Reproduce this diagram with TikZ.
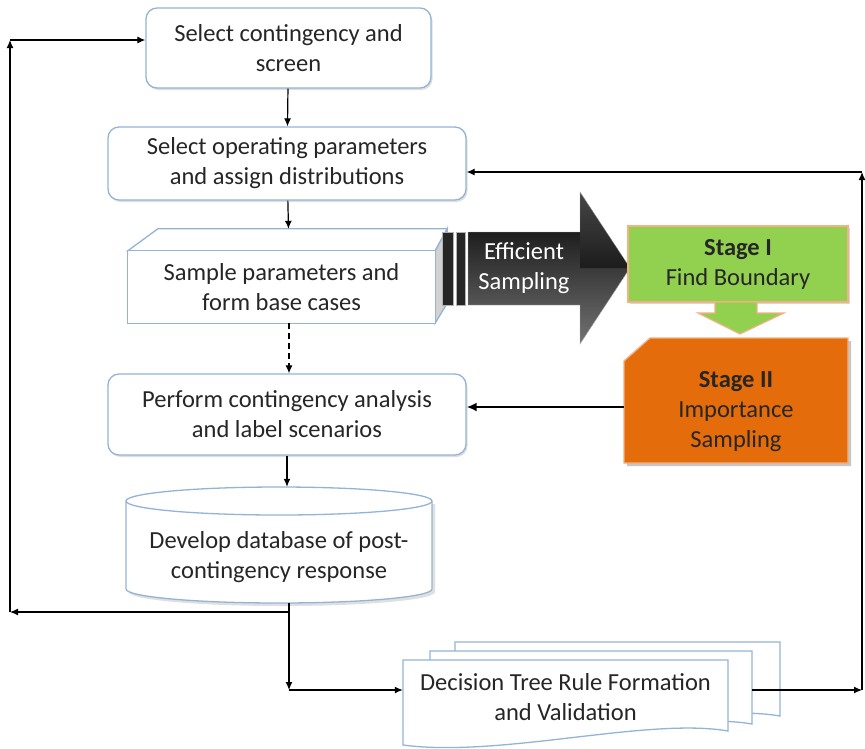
\documentclass[tikz,border=0pt]{standalone}
\usepackage{fontspec}
\setmainfont{Carlito}
\usetikzlibrary{calc,arrows.meta,shadows}
\definecolor{bluebd}{HTML}{95B3D7}
\definecolor{txt}{HTML}{262626}
\definecolor{sgreen}{HTML}{92D050}
\definecolor{sorange}{HTML}{E46C0A}
\definecolor{peach}{HTML}{F4B183}
\tikzset{
  boxline/.style={draw=bluebd, line width=1.3pt},
  procbox/.style={boxline, fill=white, rounded corners=11pt, align=center, text=txt,
     drop shadow={shadow xshift=1.5pt, shadow yshift=-2pt, opacity=0.25}},
  lbl/.style={align=center, text=txt},
  conn/.style={line width=1.2pt, -{Latex[length=8pt,width=7pt]}},
}
\begin{document}
\begin{tikzpicture}[x=1pt, y=-1pt, font=\fontsize{24.5}{30}\selectfont]
\useasboundingbox (0,0) rectangle (865,748);
\fill[white] (0,0) rectangle (865,748);

% process boxes
\node[procbox, minimum width=285, minimum height=80] (b1) at (288.5,48) {Select contingency and\\screen};
\node[procbox, minimum width=358, minimum height=73] (b2) at (287,163.5) {Select operating parameters\\and assign distributions};

% 3D box
\node[minimum width=307, minimum height=72, inner sep=0] (b3) at (281.5,287) {};
\fill[gray!25] ($(b3.north west)+(2,2)$) rectangle ($(b3.south east)+(2,-3)$);
\draw[boxline, fill=white] (b3.north west) -- ($(b3.north west)+(30,-22)$) -- ($(b3.north east)+(12,-22)$) -- (b3.north east) -- cycle;
\draw[boxline, fill=gray!35] (b3.north east) -- ($(b3.north east)+(12,-22)$) -- ($(b3.south east)+(12,-20)$) -- (b3.south east) -- cycle;
\draw[boxline, fill=white] (b3.north west) rectangle (b3.south east);
\node[lbl] at (b3) {Sample parameters and\\form base cases};

\node[procbox, minimum width=358, minimum height=81] (b4) at (287,414.5) {Perform contingency analysis\\and label scenarios};

% cylinder
\node[minimum width=306, minimum height=116, inner sep=0] (db) at (279,545) {};
\fill[gray!25] (129,504) -- (129,592) arc[start angle=180,end angle=360,x radius=153pt,y radius=14pt] -- (435,504) -- cycle;
\path[fill=white] (126,501) -- (126,589) arc[start angle=180,end angle=360,x radius=153pt,y radius=14pt] -- (432,501) arc[start angle=0,end angle=180,x radius=153pt,y radius=14pt] -- cycle;
\draw[boxline] (126,501) -- (126,589) arc[start angle=180,end angle=360,x radius=153pt,y radius=14pt] -- (432,501);
\draw[boxline] (279,501) ellipse[x radius=153pt, y radius=14pt];
\node[lbl] at (279,557) {Develop database of post-\\contingency response};

% document stack
\draw[boxline, fill=white] (455,642) -- (780,642) -- (780,716) .. controls (700,702) and (552,744) .. (455,728) -- cycle;
\draw[boxline, fill=white] (430,651) -- (752,651) -- (752,724) .. controls (672,710) and (527,752) .. (430,736) -- cycle;
\draw[boxline, fill=white] (403,660) -- (728,660) -- (728,731) .. controls (648,717) and (500,758) .. (403,745) -- cycle;
\node[lbl, minimum width=325, inner sep=0] (doc) at (565.5,697) {Decision Tree Rule Formation\\and Validation};
\coordinate (d2e) at (752,690);

% efficient sampling arrow
\draw[gray!60, fill=black!85] (442,232) rectangle (453,305);
\draw[gray!60, fill=black!85] (456,232) rectangle (465,305);
\shade[left color=black, right color=black!55, shading angle=0, draw=gray!60]
  (468,232) -- (580,232) -- (580,192) -- (630,268) -- (580,344) -- (580,305) -- (468,305) -- cycle;
\shade[top color=black!45, bottom color=black, opacity=0.5]
  (580,192) -- (630,268) -- (580,268) -- cycle;
\node[align=center, text=white] (es) at (524,268) {Efficient\\Sampling};

% Stage I
\node[draw=peach, line width=1.3pt, fill=sgreen, minimum width=220, minimum height=76, align=center, text=txt,
  drop shadow={shadow xshift=2pt, shadow yshift=-2pt, opacity=0.3}] (s1) at (738,264) {\textbf{Stage I}\\Find Boundary};
\draw[draw=peach, line width=1.2pt, fill=sgreen] (715,302) -- (757,302) -- (757,313) -- (784,313) -- (740,334) -- (698,313) -- (715,313) -- cycle;

% Stage II
\fill[gray!45] (627,364) -- (653,341) -- (851,341) -- (851,466) -- (627,466) -- cycle;
\draw[draw=peach, line width=1.3pt, fill=sorange] (624,361) -- (650,338) -- (848,338) -- (848,463) -- (624,463) -- cycle;
\node[minimum width=224, minimum height=125, inner sep=0] (s2) at (736,400.5) {};
\node[lbl] at (736,412) {\textbf{Stage II}\\Importance\\Sampling};

% connectors
\draw[conn] (b1) -- (b2);
\draw[conn] (b2) -- ($(b3.north)+(7,-22)$);
\draw[conn, dashed, dash pattern=on 6pt off 4pt] (289,323) -- (b4.north -| 289,0);
\draw[conn] (b4) -- (db.north -| b4);
\draw[line width=2.6pt, -{Latex[length=10pt,width=9pt]}] (s2.west |- 0,407) -- (b4.east |- 0,407);

\coordinate (dbb) at (289,603);
\coordinate (lc0) at (289,612);
\coordinate (lc1) at (10,612);
\coordinate (lc2) at (10,40);
\coordinate (lc3) at (289,690);
\coordinate (rc1) at (862,690);
\coordinate (rc2) at (862,172);
\draw[conn] (dbb) -- (lc3);
\draw[conn] (lc3) -- (lc3 -| doc.west);
\draw[conn] (lc0) -- (lc1);
\draw[conn] (lc1) -- (lc2);
\draw[conn] (lc2) -- (lc2 -| b1.west);
\draw[conn] (d2e) -- (rc1);
\draw[conn] (rc1) -- (rc2);
\draw[conn] (rc2) -- (rc2 -| b2.east);
\end{tikzpicture}
\end{document}
